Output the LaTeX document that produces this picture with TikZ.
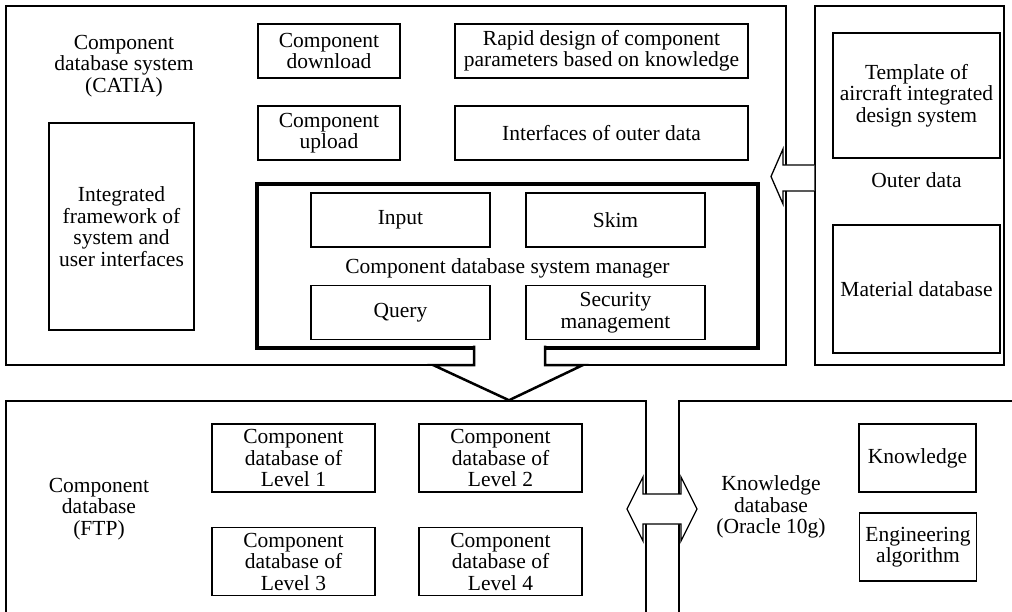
\documentclass[tikz,border=0pt]{standalone}
\usepackage{fontspec}
\setmainfont{Liberation Serif}

\begin{document}
\begin{tikzpicture}[x=1pt,y=-1pt,
  every node/.style={font=\fontsize{21.5}{21.5}\selectfont, align=center, inner sep=1pt},
  frame/.style={draw, line width=1.5pt},
  box/.style={draw, line width=1.4pt},
  mgrbox/.style={draw, line width=3.2pt},
  blockarr/.style={draw, line width=1.3pt, fill=white, line join=miter},
  funnel/.style={draw, line width=2.5pt, fill=white, line join=miter}]
  \useasboundingbox (0,0) rectangle (1012,612);

  % Component database system (CATIA)
  \node[frame, minimum width=780pt, minimum height=359pt] (cads) at (396,185.5) {};
  \node (cadslbl) at (124,66) {Component\\database system\\(CATIA)};
  \node[box, minimum width=145pt, minimum height=207pt] (frmwk) at (121.5,226.5) {Integrated\\framework of\\system and\\user interfaces};
  \node[box, minimum width=142pt, minimum height=54pt] (dnld) at (329,51) {Component\\download};
  \node[box, minimum width=293pt, minimum height=54pt] (rapid) at (601.5,51) {Rapid design of component\\parameters based on knowledge};
  \node[box, minimum width=142pt, minimum height=54pt] (upld) at (329,133) {Component\\upload};
  \node[box, minimum width=293pt, minimum height=54pt] (ifout) at (601.5,133) {Interfaces of outer data};

  % Component database system manager
  \node[mgrbox, minimum width=501pt, minimum height=164pt] (mgr) at (507.5,266) {};
  \node[box, minimum width=179pt, minimum height=54pt] (input) at (400.5,220) {Input};
  \node[box, minimum width=179pt, minimum height=54pt] (skim) at (615.5,220) {Skim};
  \node (mgrlbl) at (507.5,268) {Component database system manager};
  \node[box, minimum width=179pt, minimum height=54pt] (query) at (400.5,312.5) {Query};
  \node[box, minimum width=179pt, minimum height=54pt] (secur) at (615.5,312.5) {Security\\management};

  % Outer data
  \node[frame, minimum width=189pt, minimum height=359pt] (outer) at (909.5,185.5) {};
  \node[box, minimum width=167pt, minimum height=125pt] (tmpl) at (916.5,95.5) {Template of\\aircraft integrated\\design system};
  \node (outlbl) at (916.5,180) {Outer data};
  \node[box, minimum width=167pt, minimum height=128pt] (matdb) at (916.5,289) {Material database};

  % Component database (FTP)
  \node[frame, minimum width=640pt, minimum height=260pt] (ftp) at (326,531) {};
  \node (ftplbl) at (99,509) {Component\\database\\(FTP)};
  \node[box, minimum width=163pt, minimum height=68pt] (lvone) at (293.5,458) {Component\\database of\\Level 1};
  \node[box, minimum width=163pt, minimum height=68pt] (lvtwo) at (500.5,458) {Component\\database of\\Level 2};
  \node[box, minimum width=163pt, minimum height=68pt] (lvthree) at (293.5,561.5) {Component\\database of\\Level 3};
  \node[box, minimum width=163pt, minimum height=68pt] (lvfour) at (500.5,561.5) {Component\\database of\\Level 4};

  % Knowledge database (Oracle 10g)
  \node[frame, minimum width=360pt, minimum height=260pt] (kdb) at (859,531) {};
  \node (kdblbl) at (771,507) {Knowledge\\database\\(Oracle 10g)};
  \node[box, minimum width=117pt, minimum height=68pt] (know) at (917.5,458) {Knowledge};
  \node[box, minimum width=117pt, minimum height=68pt] (engalg) at (918,547) {Engineering\\algorithm};

  % outer data -> system
  \path[blockarr] (outer.west |- 0,165) -- (783,165) -- (783,149) -- (771,176.5) -- (783,204) -- (783,191) -- (outer.west |- 0,191);

  % manager -> FTP
  \path[funnel] (474,345.6) -- (474,365) -- (433,365) -- (ftp.north -| 509,0) -- (583,365) -- (545,365) -- (545,345.6);

  % FTP <-> knowledge
  \path[blockarr] (643,494) -- (643,477) -- (627,509) -- (643,541) -- (643,524) -- (681,524) -- (681,541) -- (697,509) -- (681,477) -- (681,494) -- cycle;
\end{tikzpicture}
\end{document}
